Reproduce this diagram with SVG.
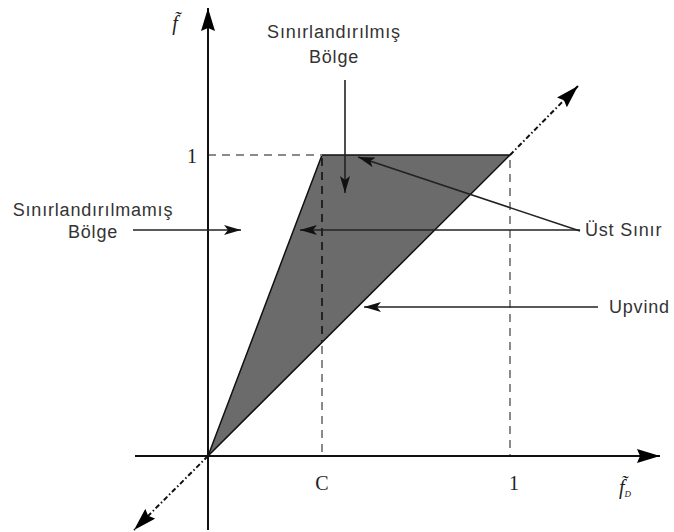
<svg xmlns="http://www.w3.org/2000/svg" width="674" height="532" viewBox="0 0 674 532">
<style>
.lbl{font-family:"Liberation Sans",Arial,sans-serif;font-size:18px;fill:#333;letter-spacing:0.8px}
.num{font-family:"Liberation Serif","Times New Roman",serif;font-size:20px;fill:#222}
.ax{stroke:#111;stroke-width:2;fill:none}
.dash{stroke:#8a8a8a;stroke-width:2;stroke-dasharray:8 6;fill:none}
.dashd{stroke:#222;stroke-width:2;stroke-dasharray:8 6;fill:none}
.dd{stroke:#111;stroke-width:2;stroke-dasharray:5 2.5 1.5 2.5;fill:none}
.ann{stroke:#222;stroke-width:1.6;fill:none}
</style>
<defs>
<marker id="ah" markerUnits="userSpaceOnUse" markerWidth="18" markerHeight="10" refX="17" refY="5" orient="auto">
<path d="M0,0 L17,5 L0,10 L4,5 z" fill="#111"/>
</marker>
<marker id="big" markerUnits="userSpaceOnUse" markerWidth="24" markerHeight="14" refX="23" refY="7" orient="auto">
<path d="M0,0 L23,7 L0,14 L3,7 z" fill="#000"/>
</marker>
</defs>
<rect width="674" height="532" fill="#fff"/>
<g id="region">
<polygon points="208,456 322,155 510,155" fill="#6b6b6b" stroke="#111" stroke-width="1.5"/>
</g>
<g id="guides">
<line class="dash" x1="208" y1="155" x2="322" y2="155"/>
<line class="dashd" x1="322" y1="158" x2="322" y2="342"/>
<line class="dash" x1="322" y1="346" x2="322" y2="456"/>
<line class="dash" x1="510" y1="160" x2="510" y2="456"/>
</g>
<g id="axes">
<line class="ax" x1="208" y1="530" x2="208" y2="8" marker-end="url(#big)"/>
<line class="ax" x1="135" y1="456" x2="660" y2="456" stroke-width="2.5" marker-end="url(#big)"/>
<line class="dd" x1="510" y1="155" x2="578" y2="86" marker-end="url(#big)"/>
<line class="dd" x1="208" y1="456" x2="134" y2="530" marker-end="url(#big)"/>
</g>
<g id="connectors">
<line class="ann" x1="345" y1="80" x2="345" y2="193" marker-end="url(#ah)"/>
<line class="ann" x1="580" y1="231" x2="358" y2="157" marker-end="url(#ah)"/>
<line class="ann" x1="580" y1="230" x2="300" y2="230" marker-end="url(#ah)"/>
<line class="ann" x1="598" y1="307" x2="364" y2="307" marker-end="url(#ah)"/>
<line class="ann" x1="133" y1="230" x2="241" y2="230" marker-end="url(#ah)"/>
</g>
<g id="label-sinirlandirilmis">
<text class="lbl" x="334" y="38" text-anchor="middle">Sınırlandırılmış</text>
<text class="lbl" x="334" y="63" text-anchor="middle">Bölge</text>
</g>
<g id="label-sinirlandirilmamis">
<text class="lbl" x="93" y="216" text-anchor="middle">Sınırlandırılmamış</text>
<text class="lbl" x="93" y="238" text-anchor="middle">Bölge</text>
</g>
<g id="label-ust-sinir">
<text class="lbl" x="585" y="236">Üst Sınır</text>
</g>
<g id="label-upvind">
<text class="lbl" x="609" y="313">Upvind</text>
</g>
<g id="ticks">
<text class="num" x="192" y="163" text-anchor="middle">1</text>
<text class="num" x="322" y="490" text-anchor="middle">C</text>
<text class="num" x="514" y="490" text-anchor="middle">1</text>
<text x="175" y="30" text-anchor="middle" style="font-family:'Liberation Serif',serif;font-style:italic;font-size:20px;fill:#222">f̃</text>
<text x="625" y="494" text-anchor="middle" style="font-family:'Liberation Serif',serif;font-style:italic;font-size:20px;fill:#222">f̃<tspan font-size="9" dy="3">D</tspan></text>
</g>
</svg>
